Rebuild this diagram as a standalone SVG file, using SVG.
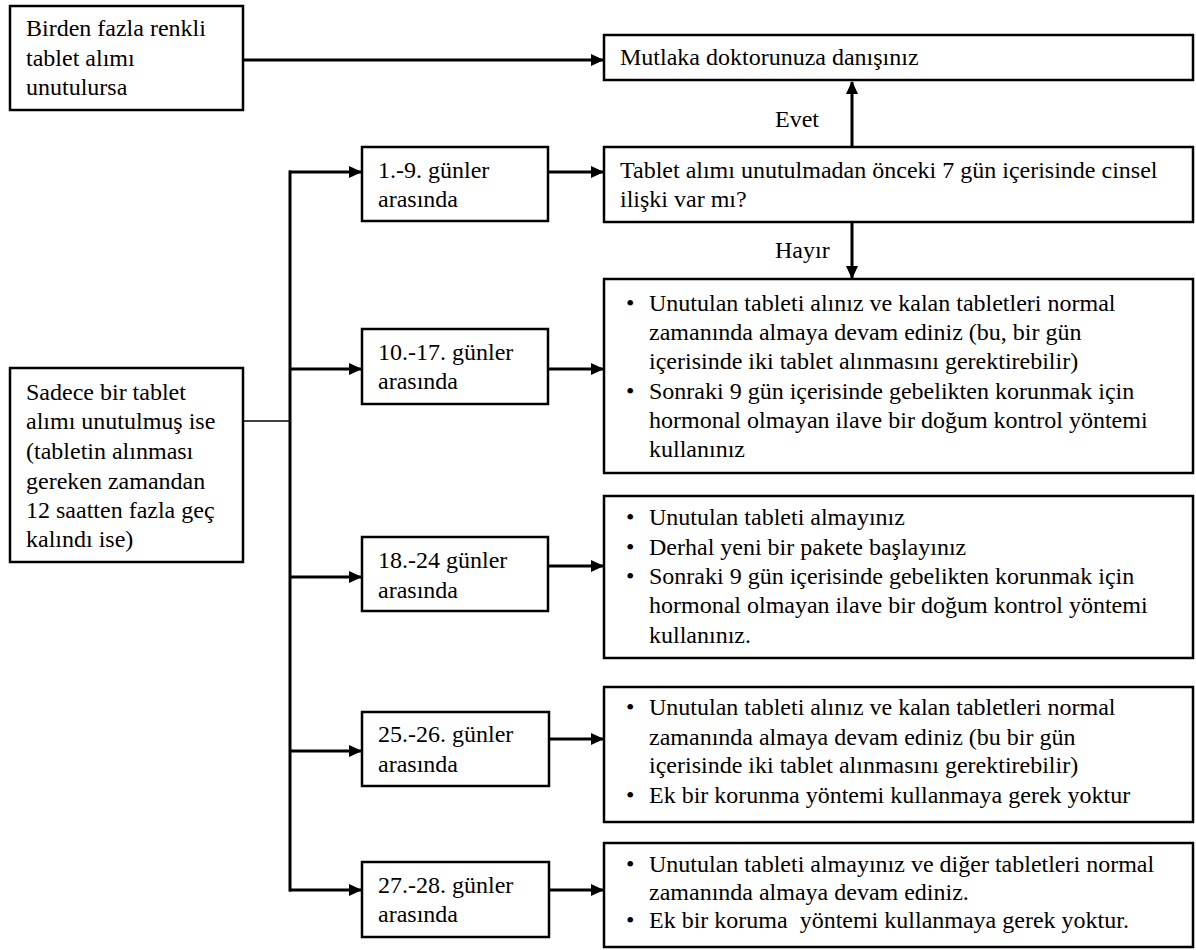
<svg xmlns="http://www.w3.org/2000/svg" width="1196" height="950" viewBox="0 0 1196 950">
<style>
  .box { fill: #fff; stroke: #000; stroke-width: 2.5; }
  .ln { stroke: #000; stroke-width: 3; fill: none; }
  .thin { stroke: #000; stroke-width: 1.5; fill: none; }
  .t { font-family: 'Liberation Serif', 'Times New Roman', serif; font-size: 24px; fill: #000; }
</style>
<defs>
  <marker id="ah" markerUnits="userSpaceOnUse" markerWidth="13" markerHeight="12" refX="12" refY="6" orient="auto">
    <path d="M0,0 L13,6 L0,12 z" fill="#000"/>
  </marker>
</defs>
<rect width="1196" height="950" fill="#fff"/>

<g id="connectors">
  <line class="ln" x1="243" y1="60" x2="603" y2="60" marker-end="url(#ah)"/>
  <line class="ln" x1="852" y1="147" x2="852" y2="82" marker-end="url(#ah)"/>
  <line class="ln" x1="852" y1="222" x2="852" y2="278" marker-end="url(#ah)"/>
  <path class="ln" d="M290,172 V890" stroke-linecap="square"/>
  <line class="thin" x1="243" y1="421" x2="290" y2="421"/>
  <line class="ln" x1="289" y1="172" x2="361" y2="172" marker-end="url(#ah)"/>
  <line class="ln" x1="548" y1="172" x2="603" y2="172" marker-end="url(#ah)"/>
  <line class="ln" x1="290" y1="369" x2="361" y2="369" marker-end="url(#ah)"/>
  <line class="ln" x1="548" y1="369" x2="603" y2="369" marker-end="url(#ah)"/>
  <line class="ln" x1="290" y1="577" x2="361" y2="577" marker-end="url(#ah)"/>
  <line class="ln" x1="548" y1="566" x2="603" y2="566" marker-end="url(#ah)"/>
  <line class="ln" x1="290" y1="751" x2="361" y2="751" marker-end="url(#ah)"/>
  <line class="ln" x1="549" y1="739" x2="603" y2="739" marker-end="url(#ah)"/>
  <line class="ln" x1="289" y1="890" x2="361" y2="890" marker-end="url(#ah)"/>
  <line class="ln" x1="549" y1="890" x2="603" y2="890" marker-end="url(#ah)"/>
  <text class="t" x="775" y="127">Evet</text>
  <text class="t" x="775" y="258">Hayır</text>
</g>

<g id="multi">
  <rect class="box" x="10" y="6" width="233" height="104"/>
  <text class="t" x="26" y="36">Birden fazla renkli</text>
  <text class="t" x="26" y="66">tablet alımı</text>
  <text class="t" x="26" y="95">unutulursa</text>
</g>

<g id="doktor">
  <rect class="box" x="604" y="35" width="589" height="45"/>
  <text class="t" x="620" y="65">Mutlaka doktorunuza danışınız</text>
</g>

<g id="d1-9">
  <rect class="box" x="362" y="147" width="186" height="74"/>
  <text class="t" x="378" y="178">1.-9. günler</text>
  <text class="t" x="378" y="207">arasında</text>
</g>

<g id="question">
  <rect class="box" x="604" y="147" width="589" height="75"/>
  <text class="t" x="620" y="178">Tablet alımı unutulmadan önceki 7 gün içerisinde cinsel</text>
  <text class="t" x="620" y="207">ilişki var mı?</text>
</g>

<g id="single">
  <rect class="box" x="10" y="368" width="233" height="194"/>
  <text class="t" x="26" y="400">Sadece bir tablet</text>
  <text class="t" x="26" y="429">alımı unutulmuş ise</text>
  <text class="t" x="26" y="459">(tabletin alınması</text>
  <text class="t" x="26" y="489">gereken zamandan</text>
  <text class="t" x="26" y="518">12 saatten fazla geç</text>
  <text class="t" x="26" y="547">kalındı ise)</text>
</g>

<g id="d10-17">
  <rect class="box" x="362" y="329" width="186" height="75"/>
  <text class="t" x="378" y="360">10.-17. günler</text>
  <text class="t" x="378" y="389">arasında</text>
</g>

<g id="r10-17">
  <rect class="box" x="604" y="279" width="589" height="194"/>
  <text class="t" x="626" y="311">•</text>
  <text class="t" x="649" y="311">Unutulan tableti alınız ve kalan tabletleri normal</text>
  <text class="t" x="649" y="340">zamanında almaya devam ediniz (bu, bir gün</text>
  <text class="t" x="649" y="369">içerisinde iki tablet alınmasını gerektirebilir)</text>
  <text class="t" x="626" y="399">•</text>
  <text class="t" x="649" y="399">Sonraki 9 gün içerisinde gebelikten korunmak için</text>
  <text class="t" x="649" y="428">hormonal olmayan ilave bir doğum kontrol yöntemi</text>
  <text class="t" x="649" y="457">kullanınız</text>
</g>

<g id="d18-24">
  <rect class="box" x="362" y="537" width="186" height="74"/>
  <text class="t" x="378" y="568">18.-24 günler</text>
  <text class="t" x="378" y="598">arasında</text>
</g>

<g id="r18-24">
  <rect class="box" x="604" y="496" width="589" height="162"/>
  <text class="t" x="626" y="525">•</text>
  <text class="t" x="649" y="525">Unutulan tableti almayınız</text>
  <text class="t" x="626" y="555">•</text>
  <text class="t" x="649" y="555">Derhal yeni bir pakete başlayınız</text>
  <text class="t" x="626" y="584">•</text>
  <text class="t" x="649" y="584">Sonraki 9 gün içerisinde gebelikten korunmak için</text>
  <text class="t" x="649" y="613">hormonal olmayan ilave bir doğum kontrol yöntemi</text>
  <text class="t" x="649" y="643">kullanınız.</text>
</g>

<g id="d25-26">
  <rect class="box" x="362" y="712" width="187" height="74"/>
  <text class="t" x="378" y="742">25.-26. günler</text>
  <text class="t" x="378" y="772">arasında</text>
</g>

<g id="r25-26">
  <rect class="box" x="604" y="687" width="589" height="135"/>
  <text class="t" x="626" y="715">•</text>
  <text class="t" x="649" y="715">Unutulan tableti alınız ve kalan tabletleri normal</text>
  <text class="t" x="649" y="745">zamanında almaya devam ediniz (bu bir gün</text>
  <text class="t" x="649" y="773">içerisinde iki tablet alınmasını gerektirebilir)</text>
  <text class="t" x="626" y="803">•</text>
  <text class="t" x="649" y="803">Ek bir korunma yöntemi kullanmaya gerek yoktur</text>
</g>

<g id="d27-28">
  <rect class="box" x="362" y="862" width="187" height="75"/>
  <text class="t" x="378" y="893">27.-28. günler</text>
  <text class="t" x="378" y="922">arasında</text>
</g>

<g id="r27-28">
  <rect class="box" x="604" y="843" width="589" height="104"/>
  <text class="t" x="626" y="872">•</text>
  <text class="t" x="649" y="872">Unutulan tableti almayınız ve diğer tabletleri normal</text>
  <text class="t" x="649" y="900">zamanında almaya devam ediniz.</text>
  <text class="t" x="626" y="928">•</text>
  <text class="t" x="649" y="928" xml:space="preserve">Ek bir koruma  yöntemi kullanmaya gerek yoktur.</text>
</g>
</svg>
